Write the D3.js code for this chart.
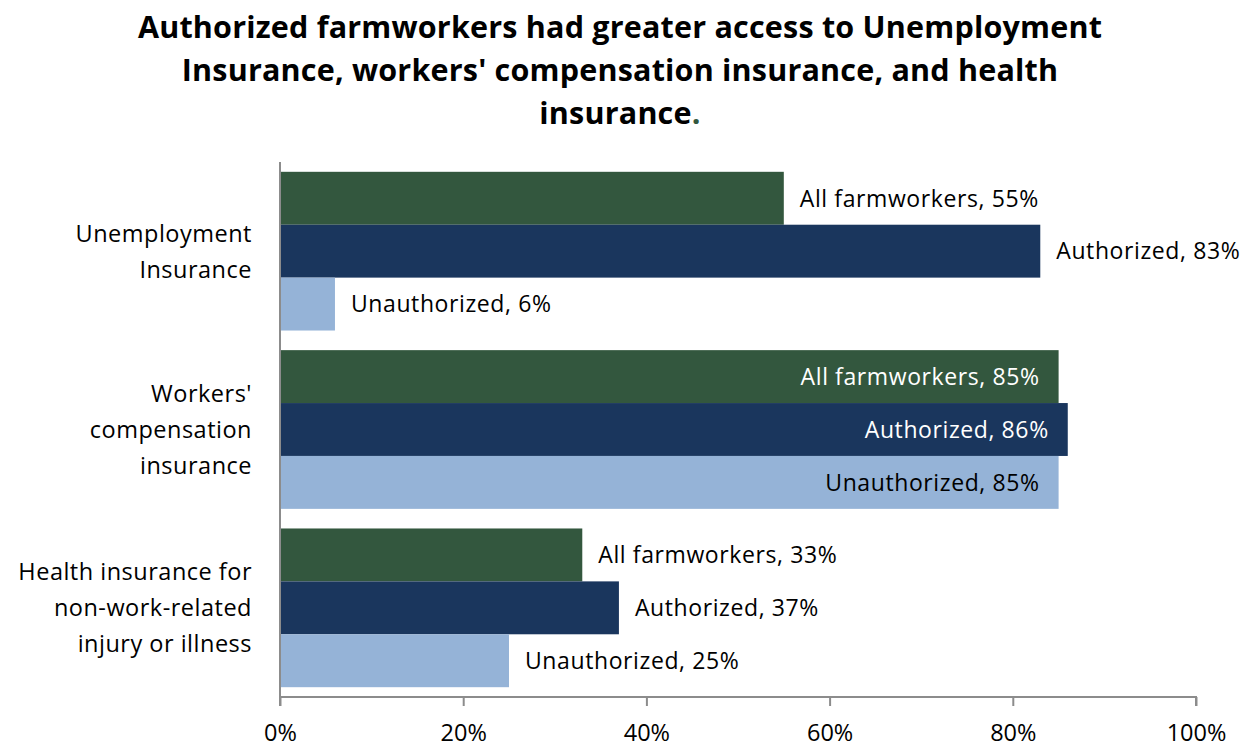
<!DOCTYPE html>
<html lang="en">
<head>
  <meta charset="UTF-8" />
  <title>Farmworker insurance access</title>
  <style>
    body { margin: 0; background: #fff; font-family: "Open Sans", sans-serif; }
    svg { display: block; }
    .title { font-weight: bold; font-size: 30.5px; letter-spacing: 0.2px; fill: #000; }
    .cat { font-size: 23.5px; letter-spacing: 0.5px; fill: #000; }
    .lbl { font-size: 23px; letter-spacing: 0.6px; }
    .tick text { font-size: 23.5px; fill: #000; font-family: "Open Sans", sans-serif; }
  </style>
</head>
<body>
<svg width="1247" height="750"></svg>
<script src="https://d3js.org/d3.v7.min.js"></script>
<script>
  const categories = [
    ["Unemployment", "Insurance"],
    ["Workers'", "compensation", "insurance"],
    ["Health insurance for", "non-work-related", "injury or illness"]
  ];
  const seriesNames = ["All farmworkers", "Authorized", "Unauthorized"];
  const allFarmworkers = [55, 85, 33];
  const authorized = [83, 86, 37];
  const unauthorized = [6, 85, 25];
  const ticks = [0, 20, 40, 60, 80, 100];
  const colors = ["#33573e", "#1a365d", "#95b3d7"];

  const svg = d3.select("svg");
  const margin = { top: 162, left: 280, right: 51, bottom: 53 };
  const innerW = 1247 - margin.left - margin.right;
  const innerH = 697 - margin.top;

  // title
  const titleLines = [
    "Authorized farmworkers had greater access to Unemployment",
    "Insurance, workers' compensation insurance, and health",
    "insurance"
  ];
  const title = svg.append("text").attr("class", "title").attr("text-anchor", "middle");
  titleLines.forEach((t, i) => {
    title.append("tspan").attr("x", 620).attr("y", 38 + i * 43).text(t);
    if (i === titleLines.length - 1) {
      title.append("tspan").attr("fill", "#33573e").text(".");
    }
  });

  const g = svg.append("g").attr("transform", `translate(${margin.left},${margin.top})`);

  const x = d3.scaleLinear().domain([0, 100]).range([0, innerW]);
  const y0 = d3.scaleBand().domain(d3.range(categories.length)).range([0, innerH]).paddingInner(0.11).paddingOuter(0.055);
  const y1 = d3.scaleBand().domain(d3.range(3)).range([0, y0.bandwidth()]);

  const rows = [];
  const values = [allFarmworkers, authorized, unauthorized];
  categories.forEach((c, ci) => {
    values.forEach((vals, si) => rows.push({ ci, si, v: vals[ci] }));
  });

  g.selectAll("rect.bar")
    .data(rows)
    .join("rect")
    .attr("class", "bar")
    .attr("x", 0)
    .attr("y", d => y0(d.ci) + y1(d.si))
    .attr("width", d => x(d.v))
    .attr("height", y1.bandwidth())
    .attr("fill", d => colors[d.si]);

  // data labels: inside for long bars, outside for the rest
  g.selectAll("text.lbl")
    .data(rows)
    .join("text")
    .attr("class", "lbl")
    .attr("dy", "0.36em")
    .attr("y", d => y0(d.ci) + y1(d.si) + y1.bandwidth() / 2)
    .attr("x", d => d.v >= 84 ? x(d.v) - 19 : x(d.v) + 16)
    .attr("text-anchor", d => d.v >= 84 ? "end" : "start")
    .attr("fill", d => (d.v >= 84 && d.si < 2) ? "#fff" : "#000")
    .text(d => `${seriesNames[d.si]}, ${d.v}%`);

  // axes
  const xAxis = g.append("g")
    .attr("class", "x-axis")
    .attr("transform", `translate(0,${innerH})`)
    .call(d3.axisBottom(x).tickValues(ticks).tickFormat(d => d + "%").tickSize(9).tickSizeOuter(9).tickPadding(18));
  xAxis.selectAll("line, path").attr("stroke", "#8c8c8c").attr("stroke-width", 2);
  xAxis.select(".domain").attr("d", `M0,9V0H${innerW}V9`);

  g.append("line")
    .attr("x1", 0).attr("x2", 0)
    .attr("y1", 0).attr("y2", innerH)
    .attr("stroke", "#8c8c8c").attr("stroke-width", 2);

  // category labels
  categories.forEach((lines, ci) => {
    const cy = y0(ci) + y0.bandwidth() / 2;
    const t = g.append("text").attr("class", "cat").attr("text-anchor", "end");
    lines.forEach((l, i) => {
      t.append("tspan")
        .attr("x", -28)
        .attr("y", cy + (i - (lines.length - 1) / 2) * 36)
        .attr("dy", "0.36em")
        .text(l);
    });
  });
</script>
</body>
</html>
